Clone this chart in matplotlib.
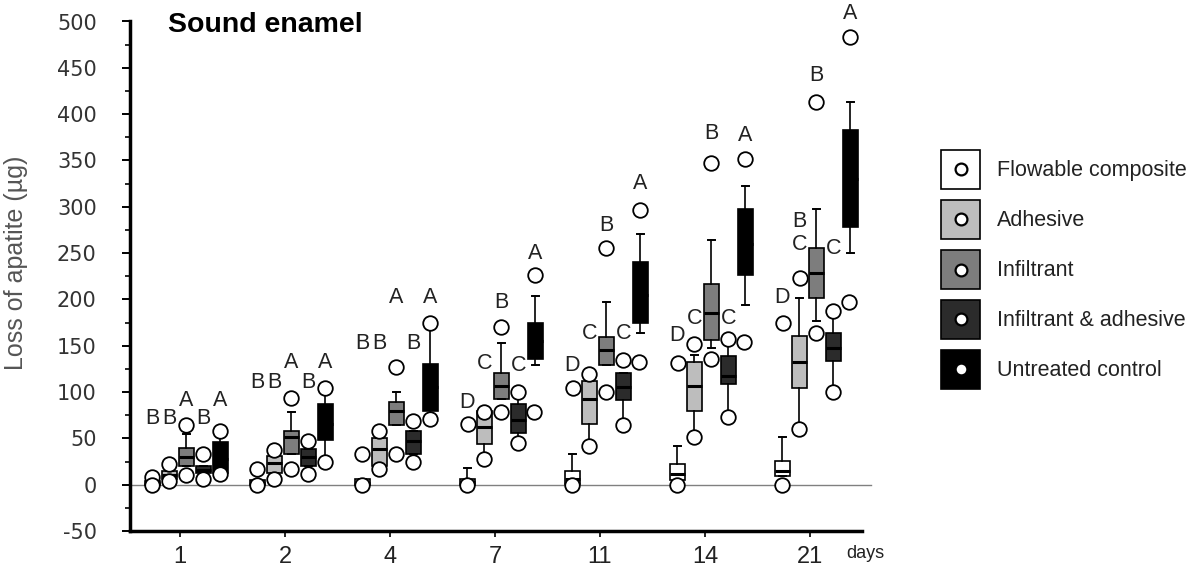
import matplotlib
matplotlib.use('Agg')
import matplotlib.pyplot as plt
from matplotlib.patches import Rectangle
from matplotlib.lines import Line2D
from matplotlib.legend_handler import HandlerTuple, HandlerBase

plt.rcParams['axes.unicode_minus'] = False

# days on the x axis and the five treatments
days = ['1', '2', '4', '7', '11', '14', '21']
groups = ['Flowable composite', 'Adhesive', 'Infiltrant', 'Infiltrant & adhesive', 'Untreated control']
colors = ['white', '#bdbdbd', '#7d7d7d', '#2b2b2b', 'black']

# box statistics per group, one value per day (µg)
flow_q1 = [0, 0, 0, 0, 1, 5, 9]
flow_med = [2, 2, 2, 3, 6, 12, 15]
flow_q3 = [4, 5, 6, 6, 15, 22, 26]
flow_lo = [0, 0, 0, 0, 1, 5, 9]
flow_hi = [4, 5, 6, 18, 33, 42, 52]

adh_q1 = [6, 13, 20, 44, 66, 80, 104]
adh_med = [10, 23, 39, 62, 92, 107, 132]
adh_q3 = [15, 31, 50, 80, 112, 132, 160]
adh_lo = [6, 13, 20, 28, 42, 51, 60]
adh_hi = [15, 31, 50, 80, 112, 140, 201]

inf_q1 = [20, 33, 64, 93, 129, 156, 201]
inf_med = [30, 51, 80, 107, 145, 185, 229]
inf_q3 = [40, 58, 89, 121, 159, 217, 255]
inf_lo = [20, 33, 64, 93, 129, 148, 177]
inf_hi = [55, 78, 100, 153, 197, 264, 298]

ia_q1 = [13, 20, 33, 56, 91, 109, 134]
ia_med = [16, 30, 47, 70, 105, 117, 148]
ia_q3 = [20, 39, 58, 87, 121, 139, 164]
ia_lo = [13, 20, 33, 45, 64, 73, 100]
ia_hi = [20, 39, 58, 100, 121, 157, 188]

ctl_q1 = [13, 48, 80, 136, 174, 226, 278]
ctl_med = [28, 65, 105, 155, 205, 260, 330]
ctl_q3 = [46, 87, 130, 175, 240, 298, 383]
ctl_lo = [12, 24, 71, 129, 164, 194, 250]
ctl_hi = [58, 104, 175, 204, 271, 322, 413]

# outliers per day, and which side of the box each one is drawn on (-1 left, 0 on box, 1 right)
flow_out = [[8, 0], [17, 0], [33, 0], [0], [0], [0], [0]]
flow_side = [[0, 0], [0, 0], [0, 0], [0], [0], [0], [0]]
adh_out = [[22, 4], [37, 6], [58, 17], [66, 78, 28], [120, 104, 42], [152, 131, 51], [175, 60]]
adh_side = [[0, 0], [0, 0], [0, 0], [-1, 0, 0], [0, -1, 0], [0, -1, 0], [-1, 0]]
inf_out = [[64, 10], [94, 17], [127, 33], [170, 78], [255, 100], [347, 136], [413, 223, 164]]
inf_side = [[0, 0], [0, 0], [0, 0], [0, 0], [0, 0], [0, 0], [0, -1, 0]]
ia_out = [[33, 6], [47, 12], [69, 24], [100, 45, 78], [135, 132, 64], [157, 154, 73], [188, 197, 100]]
ia_side = [[0, 0], [0, 0], [0, 0], [0, 0, 1], [0, 1, 0], [0, 1, 0], [0, 1, 0]]
ctl_out = [[58, 12], [104, 24], [175, 71], [226], [296], [352], [483]]
ctl_side = [[0, 0], [0, 0], [0, 0], [0], [0], [0], [0]]

# significance letters and the height they sit at
flow_let = ['B', 'B', 'B', 'D', 'D', 'D', 'D']
flow_let_y = [71, 110, 152, 89, 129, 161, 202]
adh_let = ['B', 'B', 'B', 'C', 'C', 'C', 'B\nC']
adh_let_y = [71, 110, 152, 131, 163, 179, 272]
inf_let = ['A', 'A', 'A', 'B', 'B', 'B', 'B']
inf_let_y = [91, 132, 202, 197, 280, 379, 442]
ia_let = ['B', 'B', 'B', 'C', 'C', 'C', 'C']
ia_let_y = [71, 110, 152, 129, 163, 179, 255]
ctl_let = ['A', 'A', 'A', 'A', 'A', 'A', 'A']
ctl_let_y = [91, 132, 202, 250, 325, 377, 509]

stats_all = [
    (flow_q1, flow_med, flow_q3, flow_lo, flow_hi, flow_out, flow_side, flow_let, flow_let_y),
    (adh_q1, adh_med, adh_q3, adh_lo, adh_hi, adh_out, adh_side, adh_let, adh_let_y),
    (inf_q1, inf_med, inf_q3, inf_lo, inf_hi, inf_out, inf_side, inf_let, inf_let_y),
    (ia_q1, ia_med, ia_q3, ia_lo, ia_hi, ia_out, ia_side, ia_let, ia_let_y),
    (ctl_q1, ctl_med, ctl_q3, ctl_lo, ctl_hi, ctl_out, ctl_side, ctl_let, ctl_let_y),
]

sans = ['Liberation Sans', 'DejaVu Sans']
narrow = ['Liberation Sans Narrow', 'DejaVu Sans Condensed', 'Liberation Sans', 'DejaVu Sans']


class CenteredDot(HandlerBase):
    # puts the legend marker in the middle of the square
    def create_artists(self, legend, orig_handle, xdescent, ydescent, width, height, fontsize, trans):
        dot = Line2D([width / 2 - xdescent], [height / 2 - ydescent], marker='o', ls='none')
        dot.update_from(orig_handle)
        dot.set_transform(trans)
        return [dot]


fig = plt.figure(figsize=(11.95, 5.78), dpi=100)
ax = fig.add_axes([130 / 1195, 1 - 531 / 578, 732 / 1195, 509.5 / 578])

step = 0.162
width = 0.14
shift = 0.06

ax.axhline(0, color='#808080', lw=1.0, xmin=0, xmax=1.012, clip_on=False, zorder=1)

for j, (q1, med, q3, lo, hi, out, side, let, let_y) in enumerate(stats_all):
    pos = [i + shift + (j - 2) * step for i in range(len(days))]
    stats = [dict(q1=q1[i], med=med[i], q3=q3[i], whislo=lo[i], whishi=hi[i], fliers=[])
             for i in range(len(days))]
    ax.bxp(stats, positions=pos, widths=width, patch_artist=True, showfliers=False,
           manage_ticks=False, capwidths=0.065,
           boxprops=dict(facecolor=colors[j], edgecolor='black', linewidth=1.2),
           medianprops=dict(color='black', linewidth=2.2),
           whiskerprops=dict(color='black', linewidth=1.2),
           capprops=dict(color='black', linewidth=1.4),
           zorder=2)
    for i in range(len(days)):
        xs = [pos[i] + s * step * 0.95 for s in side[i]]
        ax.plot(xs, out[i], 'o', ms=10.5, mfc='white', mec='black', mew=1.3, zorder=3)
        ax.text(pos[i], let_y[i], let[i], ha='center', va='center', fontsize=15.5,
                family=sans, color='#222222', linespacing=1.15, zorder=4)

ax.set_xlim((130 - 180) / 105, (862 - 180) / 105)
ax.set_ylim(-50, 500)
ax.set_xticks(range(len(days)))
ax.set_xticklabels(days, family=narrow, fontsize=17, color='#222222')
ax.set_yticks(range(-50, 501, 50))
ax.set_yticks(range(-50, 501, 25), minor=True)
for lab in ax.get_yticklabels():
    lab.set_family('DejaVu Sans')
    lab.set_fontsize(15)
    lab.set_color('#333333')
ax.tick_params(axis='y', which='major', direction='out', length=6, width=1.4, pad=18)
ax.tick_params(axis='y', which='minor', direction='out', length=3.5, width=1.2)
ax.tick_params(axis='x', which='major', direction='out', length=4.5, width=1.2, pad=6)

for s in ['top', 'right']:
    ax.spines[s].set_visible(False)
for s in ['left', 'bottom']:
    ax.spines[s].set_linewidth(2.5)

ax.set_ylabel('Loss of apatite (µg)', fontsize=18, family=sans, color='#555555')
ax.yaxis.set_label_coords(-(130 - 28) / 732, (531 - 263) / 509.5)

fig.text(168 / 1195, 1 - 25 / 578, 'Sound enamel', fontsize=20.5, fontweight='bold',
         family=sans, ha='left', va='center')
fig.text(865 / 1195, 1 - 553 / 578, 'days', fontsize=13, family=narrow, ha='center',
         va='center', color='#222222')

handles = []
for c in colors:
    box = Rectangle((0, 0), 1, 1, facecolor=c, edgecolor='black', linewidth=1.2)
    dot = Line2D([], [], marker='o', ms=8.5, mfc='white', mec='black', mew=1.6, ls='none')
    handles.append((box, dot))
fs = 15.5
px = fs * 100 / 72
# legend handle height = fs * (0.65 * handleheight + 0.245)
hh = (39 / px - 0.245) / 0.65
leg = fig.legend(handles, groups,
                 handler_map={tuple: HandlerTuple(ndivide=1, pad=0), Line2D: CenteredDot()},
                 loc='upper left', bbox_to_anchor=(941 / 1195, 1 - 150 / 578),
                 bbox_transform=fig.transFigure, frameon=False, borderpad=0,
                 borderaxespad=0, prop={'family': sans, 'size': fs},
                 handlelength=39 / px, handleheight=hh, labelspacing=11 / px,
                 handletextpad=17 / px)
for t in leg.get_texts():
    t.set_color('#222222')

fig.savefig('out.png', dpi=100)
